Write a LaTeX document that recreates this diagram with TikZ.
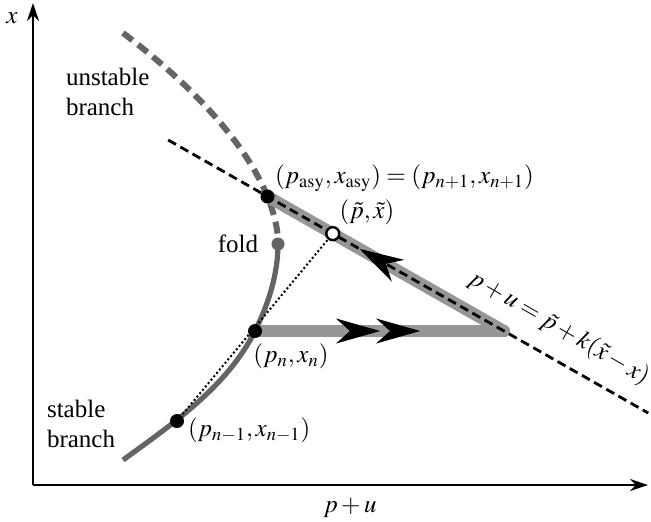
\documentclass[tikz,border=0pt]{standalone}
\usepackage{mathptmx}
\usepackage[no-math]{fontspec}
\setmainfont{Liberation Serif}
\usetikzlibrary{positioning, arrows.meta, calc, decorations.markings}
\definecolor{ramagris}{RGB}{100,100,100}
\definecolor{tramogris}{RGB}{150,150,150}
\tikzset{
  eje/.style={line width=1pt, -{Stealth[length=9pt,width=6pt]}},
  rama/.style={ramagris, line width=2.6pt},
  ramainestable/.style={rama, line width=3pt, dash pattern=on 6pt off 3.5pt},
  recta/.style={black, line width=1.4pt, dash pattern=on 4.5pt off 2.5pt},
  tramo/.style={tramogris, line width=6pt, line cap=round},
  punta/.style={black, line width=0.4pt},
  flecha/.tip={Stealth[length=22pt,width=12.5pt,inset=7pt]},
  punto/.style={circle, fill=black, inner sep=0pt, minimum size=7pt},
  hueco/.style={circle, draw=black, fill=white, line width=1.2pt, inner sep=0pt, minimum size=6.5pt},
  etiqueta/.style={font=\fontsize{12.5}{15}\selectfont}
}
\begin{document}
\begin{tikzpicture}[x=0.5pt, y=-0.5pt]
  \useasboundingbox (0,0) rectangle (651,521);
  % Ejes
  \coordinate (origen) at (33,485);
  \coordinate (ejex) at (648,485);
  \coordinate (ejey) at (33,3);
  \draw[eje] (origen) -- (ejex);
  \draw[eje] (origen) -- (ejey);
  \node[etiqueta] (lx) at (12,18) {$x$};
  \node[etiqueta] (lpu) at (350,508) {$p+u$};

  % Puntos de la curva
  \coordinate (asy) at (267.5,196.5);
  \coordinate (pn) at (255,331);
  \coordinate (pnm) at (177,421);
  \coordinate (fold) at (278,244);
  \coordinate (esq) at (504,331);
  \coordinate (til) at ($(asy)!0.276!(esq)$);

  % Ramas inestable y estable
  \draw[ramainestable] (123,33) .. controls (205,95) and (272,170) .. (278,238);
  \draw[rama] (fold) .. controls (278,274) and (268.4,304.2) .. (pn)
    .. controls (227.3,386.4) and (173.2,423.5) .. (123,460);

  % Tramos de la iteracion
  \draw[tramo, postaction={decorate}, decoration={markings,
      mark=at position 0.502 with {\arrow[punta]{flecha}},
      mark=at position 0.663 with {\arrow[punta]{flecha}}}]
    (pn) -- (esq);
  \draw[tramo, postaction={decorate}, decoration={markings,
      mark=at position 0.39 with {\arrowreversed[punta]{flecha}}}]
    (asy) -- (esq);

  % Recta secante y linea punteada
  \draw[recta] ($(asy)!-0.42!(esq)$) -- ($(asy)!1.61!(esq)$);
  \draw[line width=1pt, dash pattern=on 1pt off 1.2pt] (pnm) -- (til);

  \node[punto] (nasy) at (asy) {};
  \node[punto] (npn) at (pn) {};
  \node[punto] (npnm) at (pnm) {};
  \node[circle, fill=ramagris, inner sep=0pt, minimum size=6.5pt] (nfold) at (fold) {};
  \node[hueco] (ntil) at (til) {};

  % Etiquetas
  \node[etiqueta, anchor=west] (lasy) at (268,178) {$(p_{\mathrm{asy}},x_{\mathrm{asy}})=(p_{n+1},x_{n+1})$};
  \node[etiqueta] (ltil) at (367,212) {$(\tilde p,\tilde x)$};
  \node[etiqueta, left=3pt of nfold] (lfold) {fold};
  \node[etiqueta] (lpn) at (291,356) {$(p_n,x_n)$};
  \node[etiqueta, anchor=west] (lpnm) at (181,430) {$(p_{n-1},x_{n-1})$};
  \node[etiqueta, align=left, anchor=west] (linest) at (59,92) {unstable\\branch};
  \node[etiqueta, align=left, anchor=west] (lest) at (40,424) {stable\\branch};
  \node[etiqueta, rotate=-30.06] (lrecta) at (559,328) {$p+u=\tilde p+k(\tilde x-x)$};
\end{tikzpicture}
\end{document}
